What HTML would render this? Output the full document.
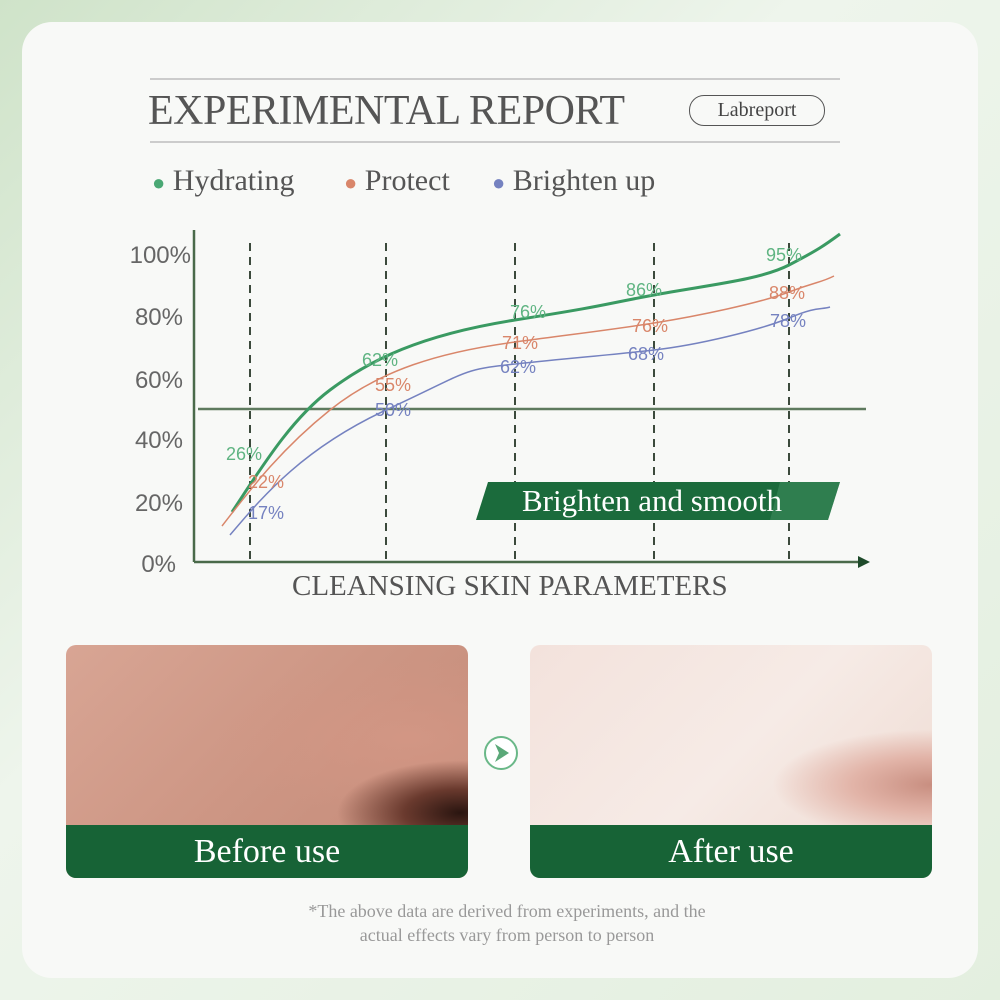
<!DOCTYPE html>
<html><head><style>
body{margin:0;width:1000px;height:1000px;overflow:hidden;background:linear-gradient(135deg,#cfe3c9,#eef5ec 40%,#e3efdf);font-family:"Liberation Serif",serif;}
.card{position:absolute;left:22px;top:22px;width:956px;height:956px;border-radius:30px;background:#f8f9f7;}
.t{position:absolute;white-space:nowrap;}
</style></head><body>
<div class="card"></div>
<div style="position:absolute;left:150px;top:78px;width:690px;height:2px;background:#ccc"></div>
<div style="position:absolute;left:150px;top:141px;width:690px;height:2px;background:#ccc"></div>
<div class="t" style="left:148px;top:87px;font-size:42px;color:#555;letter-spacing:-0.5px">EXPERIMENTAL REPORT</div>
<div class="t" style="left:689px;top:95px;width:134px;height:29px;border:1.5px solid #555;border-radius:15px;text-align:center;line-height:29px;font-size:20px;color:#444">Labreport</div>
<div class="t" style="left:152px;top:164px;font-size:30px;color:#555"><span style="color:#4aa874;font-size:22px">●</span> Hydrating</div>
<div class="t" style="left:344px;top:164px;font-size:30px;color:#555"><span style="color:#d9866a;font-size:22px">●</span> Protect</div>
<div class="t" style="left:492px;top:164px;font-size:30px;color:#555"><span style="color:#7582c0;font-size:22px">●</span> Brighten up</div>
<svg width="1000" height="1000" style="position:absolute;left:0;top:0">
<g font-family="Liberation Sans,sans-serif" font-size="24" fill="#666" text-anchor="end">
<text x="191" y="263">100%</text><text x="183" y="325">80%</text><text x="183" y="388">60%</text><text x="183" y="448">40%</text><text x="183" y="511">20%</text><text x="176" y="572">0%</text></g>
<g stroke="#3c4a3c" stroke-width="2" stroke-dasharray="8,6">
<line x1="250" y1="243" x2="250" y2="561"/><line x1="386" y1="243" x2="386" y2="561"/><line x1="515" y1="243" x2="515" y2="561"/><line x1="654" y1="243" x2="654" y2="561"/><line x1="789" y1="243" x2="789" y2="561"/></g>
<line x1="194" y1="230" x2="194" y2="562" stroke="#4a6a4a" stroke-width="2.5"/>
<line x1="194" y1="562" x2="860" y2="562" stroke="#4a6a4a" stroke-width="2.5"/>
<polygon points="858,556 870,562 858,568" fill="#1e4a2a"/>
<line x1="198" y1="409" x2="866" y2="409" stroke="#5e7a5e" stroke-width="2.5"/>
<polygon points="488,482 840,482 828,520 476,520" fill="#1b6b3c"/>
<polygon points="780,482 840,482 828,520 770,520" fill="#3d8a5c" opacity="0.6"/>
<text x="652" y="511" text-anchor="middle" font-size="31" fill="#fff" font-family="Liberation Serif,serif">Brighten and smooth</text>
<path d="M232,512 C260,470 290,420 330,390 S420,335 515,320 S600,305 654,295 S760,280 789,265 S825,245 840,234" fill="none" stroke="#3a9a62" stroke-width="3"/>
<path d="M222,526 C250,490 280,450 330,410 S440,352 515,342 S610,330 654,323 S760,303 789,292 S820,283 834,276" fill="none" stroke="#d9866a" stroke-width="1.5"/>
<path d="M230,535 C260,500 300,450 386,410 S460,370 515,364 S610,355 654,350 S760,330 789,318 S820,310 830,307" fill="none" stroke="#7582c0" stroke-width="1.5"/>
<g font-family="Liberation Sans,sans-serif" font-size="18">
<g fill="#5fb482"><text x="226" y="460">26%</text><text x="362" y="366">62%</text><text x="510" y="318">76%</text><text x="626" y="296">86%</text><text x="766" y="261">95%</text></g>
<g fill="#d9866a"><text x="248" y="488">22%</text><text x="375" y="391">55%</text><text x="502" y="349">71%</text><text x="632" y="332">76%</text><text x="769" y="299">88%</text></g>
<g fill="#7582c0"><text x="248" y="519">17%</text><text x="375" y="416">50%</text><text x="500" y="373">62%</text><text x="628" y="360">68%</text><text x="770" y="327">78%</text></g>
</g>
<circle cx="501" cy="753" r="16" fill="#fff" stroke="#6ab888" stroke-width="2"/>
<polygon points="495,744 509,753 495,762 499,753" fill="#5aa878"/>
</svg>
<div class="t" style="left:292px;top:570px;font-size:29px;color:#555">CLEANSING SKIN PARAMETERS</div>
<div style="position:absolute;left:66px;top:645px;width:402px;height:233px;border-radius:10px;overflow:hidden;background:radial-gradient(ellipse at 98% 72%,#2a1510 0,#6a3a2e 10%,transparent 22%),radial-gradient(ellipse at 85% 40%,#d29684,transparent 40%),linear-gradient(135deg,#d8a594,#cd9684 50%,#c48a78)">
<div style="position:absolute;left:0;bottom:0;width:100%;height:53px;background:#176336;color:#fff;font-size:34px;text-align:center;line-height:53px">Before use</div></div>
<div style="position:absolute;left:530px;top:645px;width:402px;height:233px;border-radius:10px;overflow:hidden;background:radial-gradient(ellipse at 100% 60%,#c88e80 0,#e2b4a8 14%,transparent 28%),linear-gradient(135deg,#f3e2dc,#f6ebe6 50%,#eed9d0)">
<div style="position:absolute;left:0;bottom:0;width:100%;height:53px;background:#176336;color:#fff;font-size:34px;text-align:center;line-height:53px">After use</div></div>
<div class="t" style="left:0;width:1014px;top:899px;text-align:center;font-size:18px;color:#999;line-height:24px">*The above data are derived from experiments, and the<br>actual effects vary from person to person</div>
</body></html>
